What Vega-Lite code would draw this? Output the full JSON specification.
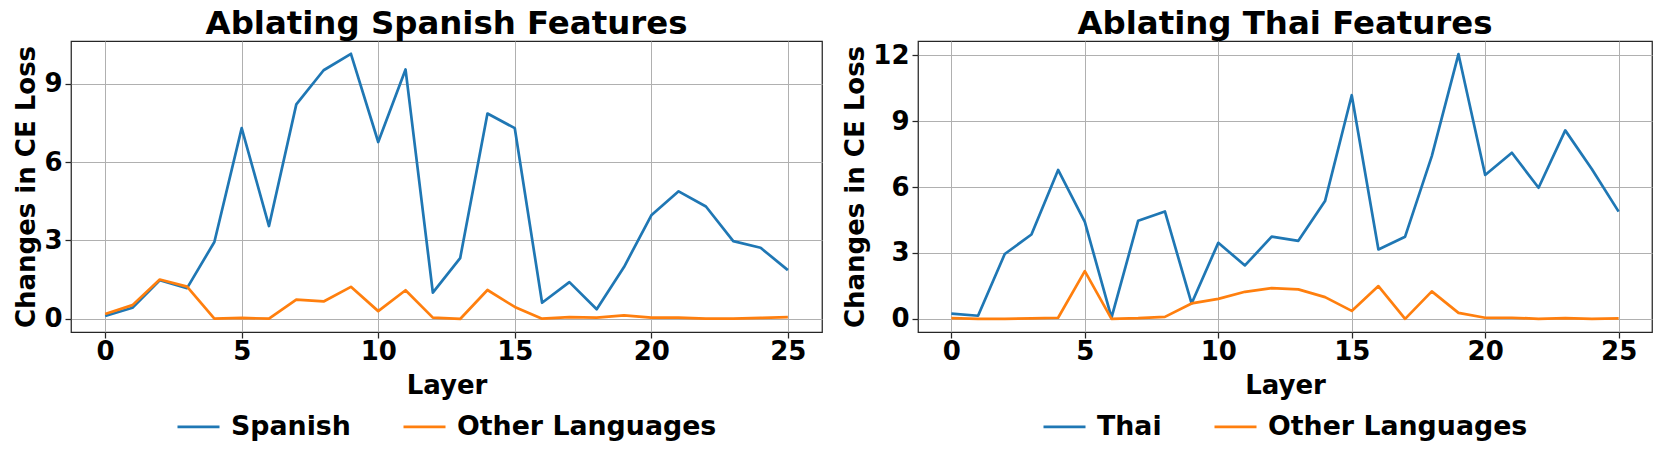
{
  "$schema": "https://vega.github.io/schema/vega-lite/v6.json",
  "padding": {"left": 13, "top": 6, "right": 10, "bottom": 10},
  "background": "white",
  "datasets": {
    "spanish": [
      {"layer": 0, "series": "Spanish", "value": 0.1},
      {"layer": 1, "series": "Spanish", "value": 0.42},
      {"layer": 2, "series": "Spanish", "value": 1.47},
      {"layer": 3, "series": "Spanish", "value": 1.17},
      {"layer": 4, "series": "Spanish", "value": 2.94},
      {"layer": 5, "series": "Spanish", "value": 7.3},
      {"layer": 6, "series": "Spanish", "value": 3.55},
      {"layer": 7, "series": "Spanish", "value": 8.21},
      {"layer": 8, "series": "Spanish", "value": 9.52},
      {"layer": 9, "series": "Spanish", "value": 10.15},
      {"layer": 10, "series": "Spanish", "value": 6.77},
      {"layer": 11, "series": "Spanish", "value": 9.55},
      {"layer": 12, "series": "Spanish", "value": 1.0},
      {"layer": 13, "series": "Spanish", "value": 2.32},
      {"layer": 14, "series": "Spanish", "value": 7.86},
      {"layer": 15, "series": "Spanish", "value": 7.3},
      {"layer": 16, "series": "Spanish", "value": 0.61},
      {"layer": 17, "series": "Spanish", "value": 1.4},
      {"layer": 18, "series": "Spanish", "value": 0.36},
      {"layer": 19, "series": "Spanish", "value": 1.98},
      {"layer": 20, "series": "Spanish", "value": 3.96},
      {"layer": 21, "series": "Spanish", "value": 4.88},
      {"layer": 22, "series": "Spanish", "value": 4.3},
      {"layer": 23, "series": "Spanish", "value": 2.97},
      {"layer": 24, "series": "Spanish", "value": 2.72},
      {"layer": 25, "series": "Spanish", "value": 1.86},
      {"layer": 0, "series": "Other Languages", "value": 0.18},
      {"layer": 1, "series": "Other Languages", "value": 0.52},
      {"layer": 2, "series": "Other Languages", "value": 1.5},
      {"layer": 3, "series": "Other Languages", "value": 1.23},
      {"layer": 4, "series": "Other Languages", "value": 0.0},
      {"layer": 5, "series": "Other Languages", "value": 0.03},
      {"layer": 6, "series": "Other Languages", "value": 0.0},
      {"layer": 7, "series": "Other Languages", "value": 0.73},
      {"layer": 8, "series": "Other Languages", "value": 0.66},
      {"layer": 9, "series": "Other Languages", "value": 1.22},
      {"layer": 10, "series": "Other Languages", "value": 0.29},
      {"layer": 11, "series": "Other Languages", "value": 1.09},
      {"layer": 12, "series": "Other Languages", "value": 0.04},
      {"layer": 13, "series": "Other Languages", "value": -0.01},
      {"layer": 14, "series": "Other Languages", "value": 1.1},
      {"layer": 15, "series": "Other Languages", "value": 0.45},
      {"layer": 16, "series": "Other Languages", "value": 0.0},
      {"layer": 17, "series": "Other Languages", "value": 0.06},
      {"layer": 18, "series": "Other Languages", "value": 0.04},
      {"layer": 19, "series": "Other Languages", "value": 0.13},
      {"layer": 20, "series": "Other Languages", "value": 0.04},
      {"layer": 21, "series": "Other Languages", "value": 0.04},
      {"layer": 22, "series": "Other Languages", "value": 0.0},
      {"layer": 23, "series": "Other Languages", "value": 0.0},
      {"layer": 24, "series": "Other Languages", "value": 0.03},
      {"layer": 25, "series": "Other Languages", "value": 0.06}
    ],
    "thai": [
      {"layer": 0, "series": "Thai", "value": 0.24},
      {"layer": 1, "series": "Thai", "value": 0.14},
      {"layer": 2, "series": "Thai", "value": 2.95},
      {"layer": 3, "series": "Thai", "value": 3.84},
      {"layer": 4, "series": "Thai", "value": 6.78},
      {"layer": 5, "series": "Thai", "value": 4.41},
      {"layer": 6, "series": "Thai", "value": 0.05},
      {"layer": 7, "series": "Thai", "value": 4.47},
      {"layer": 8, "series": "Thai", "value": 4.89},
      {"layer": 9, "series": "Thai", "value": 0.7},
      {"layer": 10, "series": "Thai", "value": 3.46},
      {"layer": 11, "series": "Thai", "value": 2.43},
      {"layer": 12, "series": "Thai", "value": 3.74},
      {"layer": 13, "series": "Thai", "value": 3.55},
      {"layer": 14, "series": "Thai", "value": 5.36},
      {"layer": 15, "series": "Thai", "value": 10.18},
      {"layer": 16, "series": "Thai", "value": 3.16},
      {"layer": 17, "series": "Thai", "value": 3.74},
      {"layer": 18, "series": "Thai", "value": 7.41},
      {"layer": 19, "series": "Thai", "value": 12.05},
      {"layer": 20, "series": "Thai", "value": 6.55},
      {"layer": 21, "series": "Thai", "value": 7.56},
      {"layer": 22, "series": "Thai", "value": 5.97},
      {"layer": 23, "series": "Thai", "value": 8.58},
      {"layer": 24, "series": "Thai", "value": 6.81},
      {"layer": 25, "series": "Thai", "value": 4.88},
      {"layer": 0, "series": "Other Languages", "value": 0.03},
      {"layer": 1, "series": "Other Languages", "value": 0.0},
      {"layer": 2, "series": "Other Languages", "value": 0.0},
      {"layer": 3, "series": "Other Languages", "value": 0.02},
      {"layer": 4, "series": "Other Languages", "value": 0.05},
      {"layer": 5, "series": "Other Languages", "value": 2.17},
      {"layer": 6, "series": "Other Languages", "value": 0.0},
      {"layer": 7, "series": "Other Languages", "value": 0.03},
      {"layer": 8, "series": "Other Languages", "value": 0.09},
      {"layer": 9, "series": "Other Languages", "value": 0.7},
      {"layer": 10, "series": "Other Languages", "value": 0.91},
      {"layer": 11, "series": "Other Languages", "value": 1.23},
      {"layer": 12, "series": "Other Languages", "value": 1.4},
      {"layer": 13, "series": "Other Languages", "value": 1.34},
      {"layer": 14, "series": "Other Languages", "value": 0.99},
      {"layer": 15, "series": "Other Languages", "value": 0.36},
      {"layer": 16, "series": "Other Languages", "value": 1.49},
      {"layer": 17, "series": "Other Languages", "value": 0.0},
      {"layer": 18, "series": "Other Languages", "value": 1.25},
      {"layer": 19, "series": "Other Languages", "value": 0.27},
      {"layer": 20, "series": "Other Languages", "value": 0.05},
      {"layer": 21, "series": "Other Languages", "value": 0.05},
      {"layer": 22, "series": "Other Languages", "value": 0.0},
      {"layer": 23, "series": "Other Languages", "value": 0.03},
      {"layer": 24, "series": "Other Languages", "value": 0.0},
      {"layer": 25, "series": "Other Languages", "value": 0.02}
    ]
  },
  "config": {
    "font": "DejaVu Sans",
    "view": {"stroke": "#262626", "strokeWidth": 1.25},
    "axis": {
      "labelFont": "DejaVu Sans",
      "labelFontSize": 26,
      "labelFontWeight": "bold",
      "labelColor": "black",
      "titleFont": "DejaVu Sans",
      "titleFontSize": 26,
      "titleFontWeight": "bold",
      "titleColor": "black",
      "gridColor": "#b0b0b0",
      "gridWidth": 1,
      "gridOpacity": 1,
      "domain": false,
      "tickColor": "#262626",
      "tickWidth": 1.25,
      "tickSize": 6,
      "labelPadding": 3,
      "titlePadding": 4,
      "labelFlush": false,
      "labelOverlap": false
    },
    "axisX": {"labelPadding": 0, "titlePadding": 8},
    "title": {
      "font": "DejaVu Sans",
      "fontSize": 32.4,
      "fontWeight": "bold",
      "color": "black",
      "anchor": "middle",
      "offset": 1
    },
    "legend": {
      "orient": "bottom",
      "direction": "horizontal",
      "labelFont": "DejaVu Sans",
      "labelFontSize": 26.8,
      "labelFontWeight": "bold",
      "labelColor": "black",
      "labelLimit": 600,
      "symbolType": "stroke",
      "symbolSize": 1764,
      "symbolStrokeWidth": 2.7,
      "labelOffset": 10,
      "columnPadding": 47,
      "offset": 6,
      "layout": {"bottom": {"anchor": "middle"}}
    }
  },
  "bounds": "flush",
  "spacing": 96,
  "resolve": {"scale": {"color": "independent", "y": "independent"}, "legend": {"color": "independent"}},
  "hconcat": [
    {
      "title": "Ablating Spanish Features",
      "width": 751,
      "height": 291,
      "data": {"name": "spanish"},
      "mark": {"type": "line", "strokeWidth": 2.7, "strokeJoin": "round"},
      "encoding": {
        "x": {"field": "layer", "type": "quantitative", "scale": {"domain": [-1.25, 26.25], "nice": false, "zero": false}, "axis": {"values": [0, 5, 10, 15, 20, 25], "title": "Layer", "labelAngle": 0}},
        "y": {"field": "value", "type": "quantitative", "scale": {"domain": [-0.51, 10.64], "nice": false, "zero": false}, "axis": {"values": [0, 3, 6, 9], "title": "Changes in CE Loss"}},
        "color": {"field": "series", "type": "nominal", "sort": null, "scale": {"domain": ["Spanish", "Other Languages"], "range": ["#1f77b4", "#ff7f0e"]}, "legend": {"title": null}}
      }
    },
    {
      "title": "Ablating Thai Features",
      "width": 734,
      "height": 291,
      "data": {"name": "thai"},
      "mark": {"type": "line", "strokeWidth": 2.7, "strokeJoin": "round"},
      "encoding": {
        "x": {"field": "layer", "type": "quantitative", "scale": {"domain": [-1.25, 26.25], "nice": false, "zero": false}, "axis": {"values": [0, 5, 10, 15, 20, 25], "title": "Layer", "labelAngle": 0}},
        "y": {"field": "value", "type": "quantitative", "scale": {"domain": [-0.6, 12.65], "nice": false, "zero": false}, "axis": {"values": [0, 3, 6, 9, 12], "title": "Changes in CE Loss"}},
        "color": {"field": "series", "type": "nominal", "sort": null, "scale": {"domain": ["Thai", "Other Languages"], "range": ["#1f77b4", "#ff7f0e"]}, "legend": {"title": null}}
      }
    }
  ]
}
